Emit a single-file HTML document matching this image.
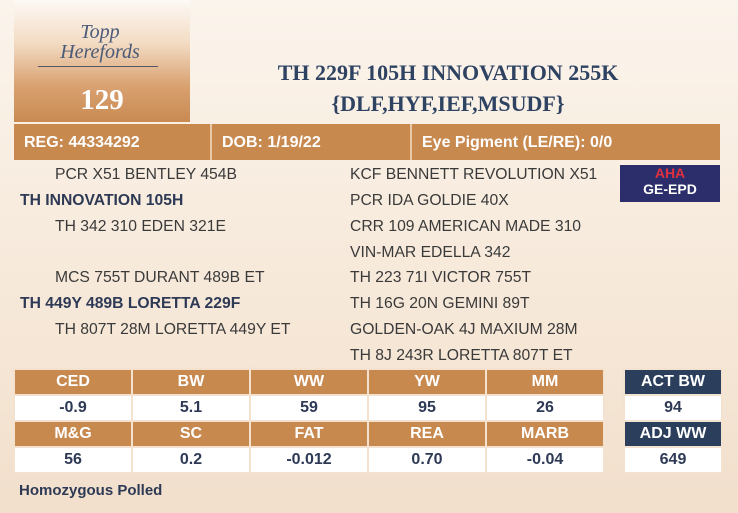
<!DOCTYPE html>
<html><head><style>
body{margin:0;width:738px;height:513px;overflow:hidden;background:linear-gradient(180deg,#fbf4ec 0%,#f6e8d8 60%,#f2dfcc 100%);font-family:"Liberation Sans",sans-serif;position:relative}
.a{position:absolute}
.logo{left:14px;top:0;width:176px;height:122px;background:linear-gradient(180deg,#fdf9f5 0%,#f3dcc4 35%,#d9a271 70%,#c98a52 100%)}
.t{font-family:"Liberation Serif",serif;font-weight:bold;color:#2e4262;text-align:center;width:440px;left:228px;font-size:22px}
.bar{left:14px;top:124px;width:706px;height:36px;background:#c8894f;color:#fff;font-weight:bold;font-size:16px}
.bar div{position:absolute;top:10px}
.p{font-size:15.7px;color:#3a3a3a;white-space:nowrap}
.b{font-weight:bold;color:#2e3a55}
table{border-collapse:collapse;position:absolute;font-size:16px;font-weight:bold;text-align:center;table-layout:fixed}
td{border:2px solid #f3e2d0;height:24px;padding:0}
.h{background:#c8894f;color:#fff}
.v{background:#fff;color:#2e3a55}
.n{background:#2b3f5c;color:#fff}
</style></head><body>
<div class="a logo"></div>
<div class="a" style="left:40px;top:22px;width:120px;font-family:'Liberation Serif',serif;font-style:italic;color:#4a5a78;font-size:20px;text-align:center;line-height:20px">Topp<br>Herefords</div>
<div class="a" style="left:38px;top:66px;width:120px;height:1px;background:#556"></div>
<div class="a" style="left:14px;top:84px;width:176px;text-align:center;font-family:'Liberation Serif',serif;font-weight:bold;font-size:29px;color:#fff">129</div>
<div class="a t" style="top:60px">TH 229F 105H INNOVATION 255K</div>
<div class="a t" style="top:91px">{DLF,HYF,IEF,MSUDF}</div>
<div class="a bar"><div style="left:10px">REG: 44334292</div><div style="left:196px;top:0;width:2px;height:36px;background:#e8c9a8"></div><div style="left:208px">DOB: 1/19/22</div><div style="left:396px;top:0;width:2px;height:36px;background:#e8c9a8"></div><div style="left:408px">Eye Pigment (LE/RE): 0/0</div></div>
<div class="a p" style="left:55px;top:166px">PCR X51 BENTLEY 454B</div>
<div class="a p b" style="left:20px;top:192px">TH INNOVATION 105H</div>
<div class="a p" style="left:55px;top:218px">TH 342 310 EDEN 321E</div>
<div class="a p" style="left:55px;top:269px">MCS 755T DURANT 489B ET</div>
<div class="a p b" style="left:20px;top:295px">TH 449Y 489B LORETTA 229F</div>
<div class="a p" style="left:55px;top:321px">TH 807T 28M LORETTA 449Y ET</div>
<div class="a p" style="left:350px;top:166px">KCF BENNETT REVOLUTION X51</div>
<div class="a p" style="left:350px;top:192px">PCR IDA GOLDIE 40X</div>
<div class="a p" style="left:350px;top:218px">CRR 109 AMERICAN MADE 310</div>
<div class="a p" style="left:350px;top:244px">VIN-MAR EDELLA 342</div>
<div class="a p" style="left:350px;top:269px">TH 223 71I VICTOR 755T</div>
<div class="a p" style="left:350px;top:295px">TH 16G 20N GEMINI 89T</div>
<div class="a p" style="left:350px;top:321px">GOLDEN-OAK 4J MAXIUM 28M</div>
<div class="a p" style="left:350px;top:347px">TH 8J 243R LORETTA 807T ET</div>
<div class="a" style="left:620px;top:165px;width:100px;height:37px;background:#2b2e6a;color:#fff;font-weight:bold;font-size:14px;text-align:center;line-height:16px"><span style="color:#e03040">AHA</span><br>GE-EPD</div>
<table style="left:13px;top:368px;width:592px"><tr class="h"><td>CED</td><td>BW</td><td>WW</td><td>YW</td><td>MM</td></tr><tr class="v"><td>-0.9</td><td>5.1</td><td>59</td><td>95</td><td>26</td></tr><tr class="h"><td>M&amp;G</td><td>SC</td><td>FAT</td><td>REA</td><td>MARB</td></tr><tr class="v"><td>56</td><td>0.2</td><td>-0.012</td><td>0.70</td><td>-0.04</td></tr></table>
<table style="left:623px;top:368px;width:100px"><tr class="n"><td>ACT BW</td></tr><tr class="v"><td>94</td></tr><tr class="n"><td>ADJ WW</td></tr><tr class="v"><td>649</td></tr></table>
<div class="a" style="left:19px;top:482px;font-size:15px;font-weight:bold;color:#2e3a55">Homozygous Polled</div>
</body></html>
